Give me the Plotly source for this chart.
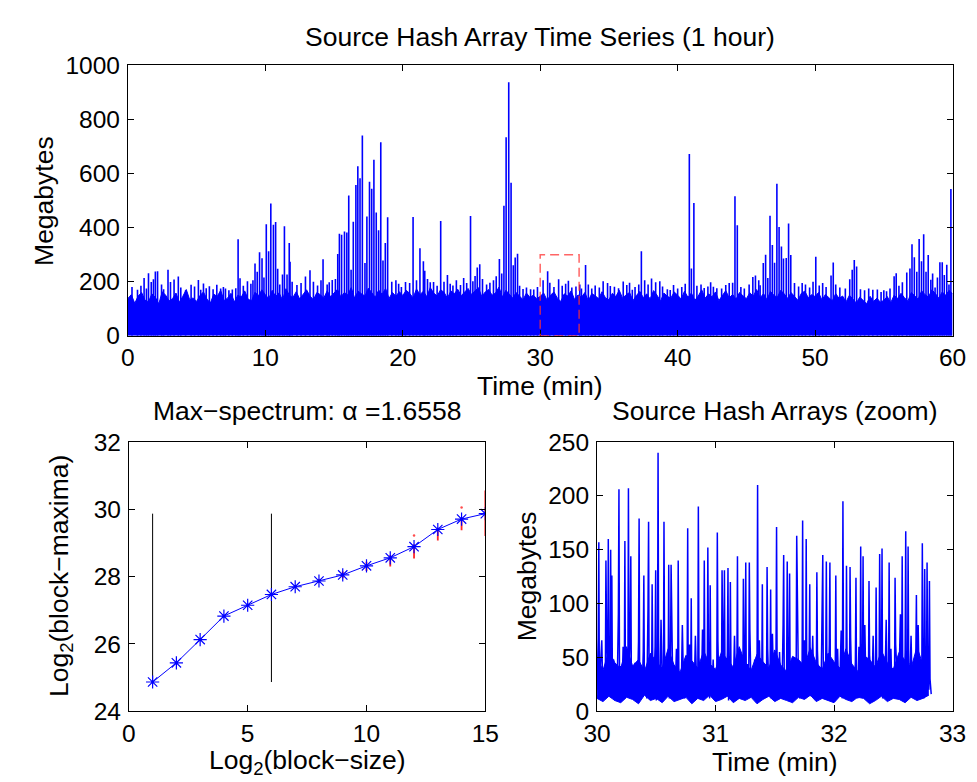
import plotly.graph_objects as go

# ---------------- data ----------------
# top panel: upper level of the dense traffic mass, one value every 0.25 min (0..60)
env_step_min = 0.25
top_envelope = [
    138, 152, 120, 147, 160, 131, 126, 155, 142, 118, 163, 150, 129, 137, 158, 124, 146, 171, 133, 140,
    127, 149, 162, 136, 121, 154, 145, 168, 130, 139, 157, 125, 150, 143, 166, 135, 129, 161, 148, 170,
    152, 137, 168, 145, 159, 132, 174, 150, 141, 163, 136, 155, 170, 147, 133, 160, 152, 139, 166, 144,
    158, 172, 143, 160, 151, 178, 139, 165, 155, 147, 176, 160, 142, 169, 153, 175, 138, 160, 146, 163,
    149, 168, 157, 140, 173, 152, 165, 144, 178, 158, 147, 170, 161, 139, 166, 155, 172, 148, 160, 175,
    153, 167, 178, 145, 162, 171, 150, 158, 180, 143, 168, 154, 139, 160, 147, 133, 158, 142, 150, 137,
    146, 158, 131, 150, 162, 139, 127, 155, 147, 166, 134, 151, 142, 160, 129, 156, 148, 137, 163, 140,
    133, 157, 145, 168, 138, 152, 160, 130, 149, 164, 141, 155, 136, 167, 150, 128, 158, 146, 139, 162,
    150, 136, 165, 142, 158, 131, 147, 170, 139, 155, 144, 162, 130, 151, 167, 140, 153, 135, 160, 148,
    137, 159, 146, 171, 140, 156, 133, 164, 150, 142, 168, 155, 138, 160, 147, 131, 157, 165, 141, 152,
    145, 160, 132, 153, 141, 129, 156, 138, 147, 125, 150, 136, 121, 143, 130, 118, 146, 127, 139, 124,
    131, 145, 122, 150, 138, 157, 141, 128, 160, 147, 135, 166, 152, 143, 170, 156, 139, 162, 150, 168,
    155,
]
# top panel: large bursts (time in min, size in MB)
top_spike_t = [
    1.18, 1.50, 1.70, 1.86, 2.00, 2.16, 2.92, 3.10, 3.36, 3.67, 4.60, 5.13, 5.50, 5.93, 6.47, 6.75, 7.10, 7.60,
    8.02, 8.16, 8.70, 9.25, 9.41, 9.58, 9.76, 10.07, 10.24, 10.40, 10.59, 10.75, 10.90, 11.25, 11.39, 11.58,
    11.74, 11.80, 12.92, 13.25, 14.20, 14.87, 15.27, 15.39, 15.55, 15.76, 15.93, 16.07, 16.24, 16.40, 16.59,
    16.73, 16.89, 17.06, 17.25, 17.39, 17.58, 17.74, 17.90, 18.07, 18.24, 18.40, 18.56, 18.73, 18.90, 19.20,
    19.50, 20.20, 20.75, 21.25, 21.50, 21.60, 22.24, 22.76, 23.25, 23.65, 24.43, 24.93, 25.26, 25.42, 25.60,
    26.34, 27.03, 27.36, 27.52, 27.71, 27.88, 28.04, 28.18, 28.35, 28.75, 29.53, 30.21, 30.54, 31.34, 32.05,
    32.88, 33.30, 33.75, 34.58, 35.40, 36.04, 36.70, 37.17, 37.36, 38.10, 38.70, 39.25, 39.46, 40.00, 40.85,
    41.00, 41.18, 41.93, 42.60, 43.20, 44.00, 44.17, 44.34, 45.47, 45.66, 46.00, 46.23, 46.40, 46.56, 46.72,
    46.89, 47.05, 47.22, 47.38, 47.55, 47.70, 47.90, 48.07, 48.23, 49.06, 50.05, 51.16, 51.32, 52.52, 52.70,
    52.85, 53.02, 54.53, 55.20, 55.75, 55.90, 56.67, 56.90, 57.05, 57.22, 57.40, 57.57, 57.74, 57.90, 58.07,
    58.23, 58.42, 58.73, 59.08, 59.25, 59.58, 59.74, 59.88,
]
top_spike_v = [
    214, 231, 199, 209, 238, 239, 244, 199, 208, 219, 189, 206, 193, 183, 189, 175, 175, 171,
    357, 213, 202, 267, 237, 309, 287, 412, 313, 489, 411, 421, 248, 227, 405, 227,
    343, 274, 219, 242, 283, 206, 302, 377, 374, 386, 382, 519, 244, 422, 558,
    627, 583, 741, 269, 441, 570, 544, 651, 456, 390, 716, 278, 343, 438, 200,
    205, 199, 439, 324, 276, 240, 199, 424, 225, 186, 214, 443, 221, 252, 264,
    196, 284, 481, 734, 938, 566, 261, 289, 303, 173, 171, 205, 239, 209, 203,
    190, 262, 175, 202, 181, 201, 170, 190, 313, 212, 202, 172, 169, 175, 672,
    249, 491, 177, 181, 175, 196, 516, 409, 217, 223, 187, 269, 300, 214, 444,
    336, 270, 562, 402, 330, 286, 288, 415, 299, 195, 292, 223, 271, 209, 244,
    280, 256, 171, 165, 220, 231, 234, 249, 338, 290, 237, 358, 276, 375, 237,
    299, 207, 178, 272, 272, 263, 190, 543,
]
# top panel: smaller bursts just above the mass
top_mid_t = [
    0.30, 0.70, 0.95, 1.35, 2.45, 2.60, 3.85, 4.20, 4.85, 5.30, 5.70, 6.20, 6.95, 7.35, 7.85, 8.40, 8.95,
    9.10, 9.90, 11.05, 11.95, 12.30, 12.60, 13.50, 13.80, 14.05, 14.50, 14.65, 15.10, 19.70, 19.90, 20.50,
    21.00, 21.80, 22.00, 22.50, 23.00, 23.45, 23.90, 24.20, 24.65, 25.10, 25.80, 26.10, 26.60, 26.80, 27.20,
    28.50, 29.00, 29.30, 29.80, 30.70, 31.00, 31.60, 31.85, 32.30, 32.60, 33.00, 33.50, 34.00, 34.30, 34.90,
    35.10, 35.70, 36.30, 36.50, 36.90, 37.60, 37.85, 38.40, 38.90, 39.70, 40.30, 40.55, 41.40, 41.70, 42.20,
    42.40, 42.85, 43.50, 43.75, 44.60, 44.85, 45.20, 45.90, 48.50, 48.80, 49.30, 49.60, 49.85, 50.30, 50.55,
    50.80, 51.50, 51.80, 52.20, 53.30, 53.60, 53.90, 54.20, 54.80, 55.00, 55.45, 56.10, 56.35, 58.55, 58.90,
    59.40,
]
top_mid_v = [
    180, 170, 185, 175, 190, 172, 178, 168, 182, 170, 176, 172, 180, 168, 176, 185, 192,
    205, 215, 190, 200, 188, 195, 200, 186, 205, 190, 198, 210, 192, 180, 195,
    205, 210, 198, 185, 200, 192, 205, 188, 195, 202, 210, 190, 205, 220, 230,
    185, 178, 172, 180, 196, 180, 185, 192, 178, 182, 175, 190, 186, 178, 195,
    184, 176, 188, 196, 180, 205, 190, 198, 182, 188, 180, 192, 185, 190, 182,
    198, 176, 188, 195, 180, 175, 190, 205, 195, 182, 190, 178, 200, 186, 195,
    180, 190, 178, 175, 172, 168, 175, 170, 162, 168, 175, 185, 198, 230, 215,
    225,
]
# zoomed window (min) and its outline height (MB)
zoom_t_start = 30.0
zoom_t_end = 32.83
zoom_box_top = 300

# zoom panel: background samples every 0.01 min starting at 30.00
zoom_step_min = 0.01
zoom_base = [
    20, 68, 15, 45, 66, 12, 38, 25, 80, 18, 55, 14, 30, 22, 48, 10, 35, 20, 90, 16,
    42, 12, 60, 25, 18, 50, 14, 35, 75, 20, 28, 12, 45, 30, 10, 65, 22, 40, 15, 55,
    18, 38, 12, 95, 20, 30, 14, 48, 25, 60, 10, 22, 40, 15, 85, 28, 12, 52, 18, 35,
    24, 12, 46, 70, 15, 32, 20, 58, 11, 40, 26, 16, 80, 22, 12, 44, 30, 14, 62, 20,
    12, 36, 18, 70, 25, 14, 50, 30, 12, 76, 20, 42, 15, 28, 60, 12, 34, 22, 48, 14,
    30, 18, 65, 12, 40, 25, 85, 15, 36, 20, 55, 10, 30, 45, 14, 22, 70, 18, 38, 12,
    50, 20, 28, 14, 60, 30, 12, 44, 22, 75, 16, 35, 12, 48, 26, 40, 14, 66, 20, 30,
    12, 42, 25, 15, 58, 20, 34, 12, 72, 24, 14, 46, 30, 16, 55, 22, 12, 80, 28, 18,
    40, 12, 62, 24, 15, 36, 50, 14, 28, 90, 20, 12, 44, 30, 18, 66, 12, 34, 22, 52,
    14, 28, 70, 16, 40, 12, 56, 24, 35, 15, 85, 20, 12, 48, 30, 18, 62, 14, 26, 42,
    12, 36, 20, 58, 15, 30, 75, 12, 44, 22, 16, 50, 28, 12, 68, 20, 35, 14, 46, 24,
    12, 60, 30, 15, 40, 22, 80, 14, 26, 12, 52, 34, 18, 70, 12, 28, 44, 16, 38, 65,
    20, 12, 48, 25, 85, 14, 32, 20, 58, 12, 40, 16, 62, 26, 12, 36, 90, 18, 30, 14,
    55, 22, 12, 44, 28, 70, 15, 36, 12, 50, 24, 80, 14, 30, 18, 60, 12, 40, 25, 48,
    20, 30, 16,
]
# zoom panel: lowest and typical levels of the traffic, every 0.05 min starting at 30.00
zoom_band_step = 0.05
zoom_floor = [
    12, 9, 14, 10, 8, 13, 11, 7, 15, 10, 12, 8, 14, 9, 11, 13, 7, 12, 10, 15,
    9, 11, 14, 8, 12, 10, 13, 7, 11, 14, 9, 12, 10, 8, 13, 11, 15, 9, 12, 10,
    8, 14, 11, 9, 13, 12, 7, 10, 14, 9, 12, 11, 8, 13, 10, 12, 15,
]
zoom_mid = [
    50, 38, 56, 45, 40, 60, 42, 48, 37, 54, 46, 40, 58, 43, 36, 52, 47, 40, 56, 44,
    39, 55, 48, 41, 60, 45, 38, 53, 46, 40, 57, 43, 37, 51, 48, 42, 59, 45, 39, 54,
    46, 40, 58, 44, 37, 52, 48, 41, 56, 45, 39, 55, 47, 40, 60, 43, 50,
]
zoom_spike_t = [
    30.015, 30.075, 30.095, 30.115, 30.125, 30.185, 30.235, 30.265, 30.285, 30.355, 30.395, 30.435, 30.465,
    30.495, 30.515, 30.565, 30.605, 30.625, 30.685, 30.765, 30.795, 30.855, 30.905, 30.935, 30.955, 31.015,
    31.055, 31.075, 31.105, 31.125, 31.185, 31.235, 31.255, 31.285, 31.355, 31.395, 31.435, 31.465, 31.515,
    31.575, 31.605, 31.625, 31.685, 31.735, 31.765, 31.795, 31.855, 31.905, 31.935, 31.965, 32.015, 32.075,
    32.105, 32.135, 32.185, 32.225, 32.245, 32.295, 32.355, 32.385, 32.405, 32.465, 32.515, 32.575, 32.605,
    32.625, 32.695, 32.745, 32.765, 32.785, 32.805,
]
zoom_spike_v = [
    157, 140, 160, 150, 126, 206, 158, 207, 144, 179, 126, 176, 118,
    131, 240, 176, 136, 136, 140, 170, 105, 190, 140, 152, 117, 166,
    131, 131, 133, 120, 144, 123, 138, 138, 210, 118, 134, 113, 171,
    145, 139, 128, 163, 177, 160, 118, 129, 145, 139, 138, 126, 195,
    135, 134, 124, 153, 144, 121, 115, 146, 151, 138, 124, 144, 167,
    153, 108, 156, 132, 138, 121,
]

# max-spectrum panel
block_size_log2 = [1, 2, 3, 4, 5, 6, 7, 8, 9, 10, 11, 12, 13, 14, 15]
block_max_log2 = [24.87, 25.44, 26.13, 26.83, 27.15, 27.47, 27.70, 27.87, 28.05, 28.32, 28.56, 28.89, 29.40, 29.71, 29.87]
err_low = [0, 0, 0, 0, 0, 0, 0.03, 0.05, 0.10, 0.15, 0.26, 0.35, 0.33, 0.33, 0.66]
err_high = [0, 0, 0, 0, 0, 0, 0.03, 0.05, 0.10, 0.12, 0.08, 0.07, 0.05, 0.05, 0.69]
stray_x = [12, 14]
stray_y = [29.22, 30.05]
fit_range = [1, 6]
alpha = 1.6558

# ---------------- figure ----------------
W, H = 977, 782
BLUE = "#0000ff"
FONT = "Liberation Sans, Arial, Helvetica, sans-serif"
TICK = 24.5
LAB = 26.5


def px(x):
    return x / W


def py(y):
    return 1 - y / H


fig = go.Figure()

# top panel: dense mass
env_t = [i * env_step_min for i in range(len(top_envelope))]
fig.add_trace(go.Scatter(x=env_t, y=top_envelope, mode="lines", fill="tozeroy",
                         fillcolor=BLUE, line=dict(color=BLUE, width=1),
                         xaxis="x", yaxis="y", hoverinfo="skip", showlegend=False))
sx, sy = [], []
for t, v in list(zip(top_mid_t, top_mid_v)) + list(zip(top_spike_t, top_spike_v)):
    sx += [t, t, None]
    sy += [0, v, None]
fig.add_trace(go.Scatter(x=sx, y=sy, mode="lines", line=dict(color=BLUE, width=1.6),
                         xaxis="x", yaxis="y", hoverinfo="skip", showlegend=False))

# max-spectrum panel
ex, ey = [], []
for xv, yv, lo, hi in zip(block_size_log2, block_max_log2, err_low, err_high):
    if lo > 0 or hi > 0:
        ex += [xv, xv, None]
        ey += [yv - lo, yv + hi, None]
fig.add_trace(go.Scatter(x=ex, y=ey, mode="lines", line=dict(color="rgba(255,0,0,0.85)", width=1.8),
                         xaxis="x2", yaxis="y2", hoverinfo="skip", showlegend=False))
fig.add_trace(go.Scatter(x=stray_x, y=stray_y, mode="markers",
                         marker=dict(color="rgba(255,0,0,0.7)", size=2.5),
                         xaxis="x2", yaxis="y2", hoverinfo="skip", showlegend=False))
ymin, ymax = min(block_max_log2), max(block_max_log2)
vx, vy = [], []
for f in fit_range:
    vx += [f, f, None]
    vy += [ymin, ymax, None]
fig.add_trace(go.Scatter(x=vx, y=vy, mode="lines", line=dict(color="black", width=1),
                         xaxis="x2", yaxis="y2", hoverinfo="skip", showlegend=False))
fig.add_trace(go.Scatter(x=block_size_log2, y=block_max_log2, mode="lines+markers",
                         line=dict(color=BLUE, width=1),
                         marker=dict(symbol="asterisk-open", size=11, color=BLUE,
                                     line=dict(color=BLUE, width=1.2)),
                         xaxis="x2", yaxis="y2", hoverinfo="skip", showlegend=False))

# zoom panel: solid band between floor and typical level, then samples and bursts
band_t = [zoom_t_start + i * zoom_band_step for i in range(len(zoom_floor))]
fig.add_trace(go.Scatter(x=band_t, y=zoom_floor, mode="lines", line=dict(color=BLUE, width=1),
                         xaxis="x3", yaxis="y3", hoverinfo="skip", showlegend=False))
fig.add_trace(go.Scatter(x=band_t, y=zoom_mid, mode="lines", line=dict(color=BLUE, width=1),
                         fill="tonexty", fillcolor=BLUE,
                         xaxis="x3", yaxis="y3", hoverinfo="skip", showlegend=False))
pts = [(zoom_t_start + i * zoom_step_min, v) for i, v in enumerate(zoom_base)]
pts += list(zip(zoom_spike_t, zoom_spike_v))
pts.sort(key=lambda p: p[0])
fig.add_trace(go.Scatter(x=[p[0] for p in pts], y=[p[1] for p in pts], mode="lines",
                         line=dict(color=BLUE, width=1.5),
                         xaxis="x3", yaxis="y3", hoverinfo="skip", showlegend=False))

# dashed zoom outline on the top panel
fig.add_shape(type="rect", xref="x", yref="y", x0=zoom_t_start, x1=zoom_t_end, y0=0, y1=zoom_box_top,
              line=dict(color="rgba(255,50,50,0.75)", width=1.5, dash="9px,5px"), layer="above")

axis_common = dict(showline=True, linecolor="black", linewidth=1, mirror="ticks", ticks="inside",
                   ticklen=6, tickcolor="black", tickwidth=1, showgrid=False, zeroline=False,
                   tickfont=dict(size=TICK, color="black", family=FONT))
xstand = dict(ticklabelstandoff=0)
ystand = dict(ticklabelstandoff=2)

top_dom_x = [px(109), px(958)]
top_dom_y = [py(326), py(46)]
bl_dom_x = [px(110), px(477)]
br_dom_x = [px(592), px(958)]
bot_dom_y = [py(715), py(436)]

fig.update_layout(
    width=W, height=H, margin=dict(l=0, r=0, t=0, b=0),
    paper_bgcolor="white", plot_bgcolor="white", showlegend=False,
    font=dict(family=FONT, color="black"),
    xaxis=dict(domain=top_dom_x, range=[0, 60], tickvals=[0, 10, 20, 30, 40, 50, 60], anchor="y", **axis_common, **xstand),
    yaxis=dict(domain=top_dom_y, range=[0, 1000], tickvals=[0, 200, 400, 600, 800, 1000], anchor="x", **axis_common, **ystand),
    xaxis2=dict(domain=bl_dom_x, range=[0, 15], tickvals=[0, 5, 10, 15], anchor="y2", **axis_common, **xstand),
    yaxis2=dict(domain=bot_dom_y, range=[24, 32], tickvals=[24, 26, 28, 30, 32], anchor="x2", **axis_common, **ystand),
    xaxis3=dict(domain=br_dom_x, range=[30, 33], tickvals=[30, 31, 32, 33], anchor="y3", **axis_common, **xstand),
    yaxis3=dict(domain=bot_dom_y, range=[0, 250], tickvals=[0, 50, 100, 150, 200, 250], anchor="x3", **axis_common, **ystand),
)


def label(text, x, y, angle=0):
    fig.add_annotation(text=text, xref="paper", yref="paper", x=px(x), y=py(y),
                       xanchor="center", yanchor="middle", showarrow=False, textangle=angle,
                       font=dict(size=LAB, color="black", family=FONT))


label("Source Hash Array Time Series (1 hour)", 533.5, 17)
label("Time (min)", 533.5, 378)
label("Megabytes", 22, 186, -90)
label("Max\u2212spectrum: \u03b1 =%.4f" % alpha, 293.5, 404)
label("Log<sub>2</sub>(block\u2212size)", 293.5, 767)
label("Log<sub>2</sub>(block\u2212maxima)", 40, 575, -90)
label("Source Hash Arrays (zoom)", 775, 404)
label("Time (min)", 775, 767)
label("Megabytes", 520, 575, -90)

fig.write_html("out.html")
